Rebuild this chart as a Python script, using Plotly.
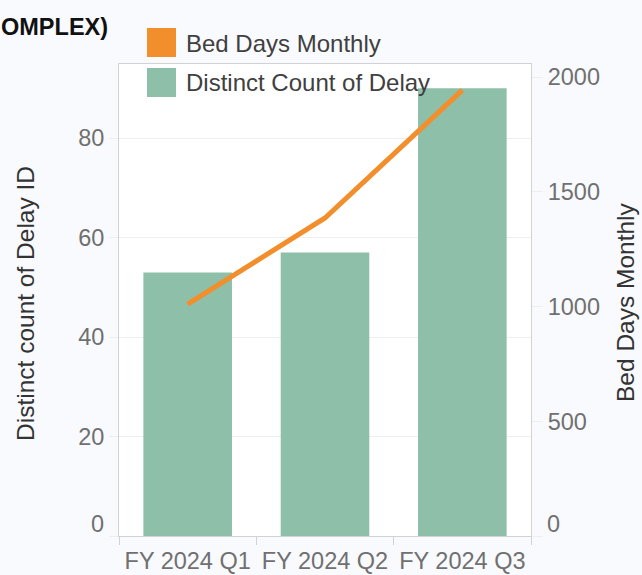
import plotly.graph_objects as go

# ---- data ----
categories = ["FY 2024 Q1", "FY 2024 Q2", "FY 2024 Q3"]
delay_counts = [53, 57, 90]
bed_days = [1011, 1386, 1943]
left_ticks = [0, 20, 40, 60, 80]
right_ticks = [0, 500, 1000, 1500, 2000]
title_text = "OMPLEX)"
legend_labels = ["Bed Days Monthly", "Distinct Count of Delay"]
y_left_title = "Distinct count of Delay ID"
y_right_title = "Bed Days Monthly"

# ---- styling ----
W, H = 642, 575
L, R, T, B = 119, 111, 64, 39
PW, PH = W - L - R, H - T - B
FONT = "Liberation Sans, Arial, sans-serif"
GREEN = "#8ebfa8"
ORANGE = "#f28e2b"
BORDER = "#d2d2d2"
GRID = "#eeeeee"
TICKCOLOR = "#707070"
TICKFONT = dict(family=FONT, size=23.5, color=TICKCOLOR)


def px_x(p):
    return (p - L) / PW


def px_y(p):
    return (H - B - p) / PH


def hide_zero(vals):
    return [("" if v == 0 else str(v)) for v in vals]


fig = go.Figure()
fig.add_trace(go.Bar(x=categories, y=delay_counts, marker=dict(color=GREEN, line=dict(width=0)),
                     width=0.645, name=legend_labels[1], yaxis="y"))
fig.add_trace(go.Scatter(x=categories, y=bed_days, mode="lines", line=dict(color=ORANGE, width=5),
                         name=legend_labels[0], yaxis="y2"))

fig.update_layout(
    width=W, height=H,
    margin=dict(l=L, r=R, t=T, b=B, pad=0, autoexpand=False),
    paper_bgcolor="#f9fafd",
    plot_bgcolor="#ffffff",
    showlegend=False,
    font=dict(family=FONT),
    xaxis=dict(
        type="category", range=[-0.5, 2.5], tickson="boundaries", ticks="outside", ticklen=8,
        tickcolor=BORDER, showline=True, linecolor=BORDER, linewidth=1, mirror=True,
        showgrid=False, tickfont=TICKFONT, zeroline=False, ticklabelstandoff=4, automargin=False,
    ),
    yaxis=dict(
        range=[0, 94.9], tickvals=left_ticks, ticktext=hide_zero(left_ticks),
        ticks="outside", ticklen=9, tickcolor=GRID, automargin=False,
        showline=True, linecolor=BORDER, linewidth=1, mirror=True,
        showgrid=True, gridcolor=GRID, gridwidth=1, zeroline=False, tickfont=TICKFONT,
    ),
    yaxis2=dict(
        range=[0, 2057], tickvals=right_ticks, ticktext=hide_zero(right_ticks),
        overlaying="y", side="right", ticks="outside", ticklen=11, tickcolor=GRID, automargin=False,
        showline=False, showgrid=False, zeroline=False, tickfont=TICKFONT,
    ),
)

# zero labels sit a little above their ticks, as in the reference
fig.add_annotation(xref="paper", yref="y", x=0, y=left_ticks[0], text=str(left_ticks[0]),
                   xshift=-13, yshift=12, showarrow=False, xanchor="right", yanchor="middle",
                   font=TICKFONT)
fig.add_annotation(xref="paper", yref="y2", x=1, y=right_ticks[0], text=str(right_ticks[0]),
                   xshift=14, yshift=12, showarrow=False, xanchor="left", yanchor="middle",
                   font=TICKFONT)

# legend drawn as swatches + labels
swatches = [(ORANGE, 28, 57, 43, legend_labels[0]), (GREEN, 68, 97, 82, legend_labels[1])]
for col, top, bot, mid, lab in swatches:
    fig.add_shape(type="rect", xref="paper", yref="paper", x0=px_x(147), x1=px_x(176),
                  y0=px_y(bot), y1=px_y(top), fillcolor=col, line=dict(width=0), layer="above")
    fig.add_annotation(xref="paper", yref="paper", x=px_x(184), y=px_y(mid), text=lab,
                       showarrow=False, xanchor="left", yanchor="middle",
                       font=dict(family=FONT, size=24, color="#404040"))

# axis titles
fig.add_annotation(xref="paper", yref="paper", x=px_x(25), y=px_y(304), text=y_left_title,
                   textangle=-90, showarrow=False, xanchor="center", yanchor="middle",
                   font=dict(family=FONT, size=24.5, color="#333333"))
fig.add_annotation(xref="paper", yref="paper", x=px_x(625), y=px_y(302), text=y_right_title,
                   textangle=-90, showarrow=False, xanchor="center", yanchor="middle",
                   font=dict(family=FONT, size=24.5, color="#333333"))

# title (cut off at the left in the source)
fig.add_annotation(xref="paper", yref="paper", x=px_x(0), y=px_y(27), text="<b>" + title_text + "</b>",
                   showarrow=False, xanchor="left", yanchor="middle", borderpad=0,
                   font=dict(family=FONT, size=23.5, color="#111111"))

fig.write_html("out.html", config={"displayModeBar": False},
               post_script="document.body.style.margin='0';document.body.style.padding='0';")
